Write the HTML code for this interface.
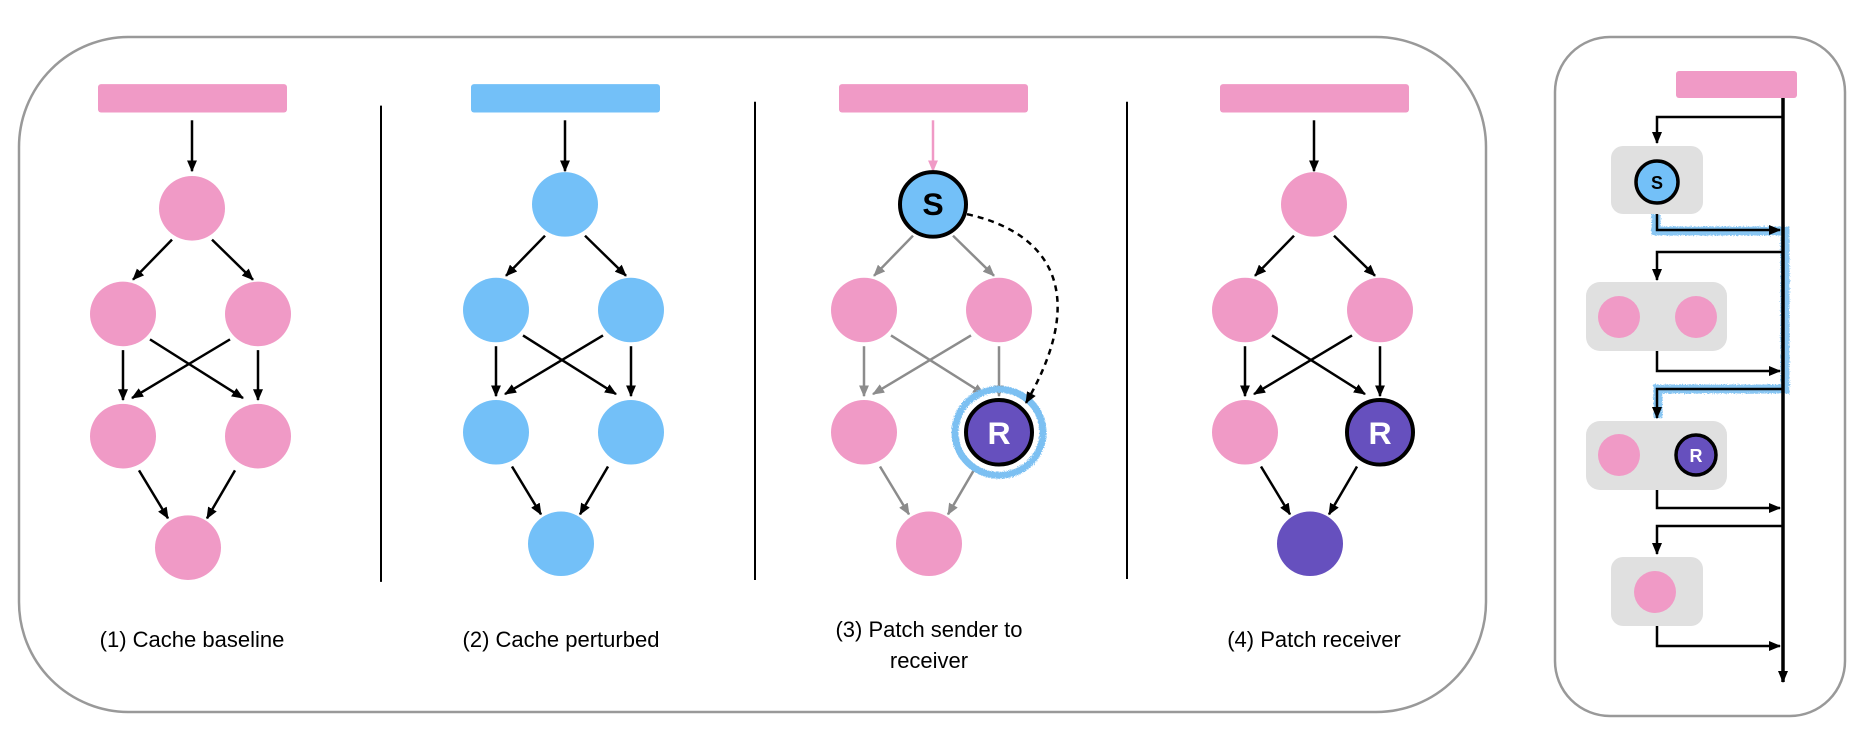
<!DOCTYPE html>
<html><head><meta charset="utf-8"><style>
html,body{margin:0;padding:0;background:#fff;}
svg{display:block;}
text{font-family:"Liberation Sans",Arial,sans-serif;}
</style></head><body>
<svg id="s" width="1865" height="743" viewBox="0 0 1865 743" xmlns="http://www.w3.org/2000/svg">
<defs>
<marker id="ak" viewBox="0 0 12 10" refX="11" refY="5" markerWidth="12" markerHeight="10" markerUnits="userSpaceOnUse" orient="auto"><path d="M0,0 L12,5 L0,10 z" fill="#000"/></marker>
<marker id="ag" viewBox="0 0 12 10" refX="11" refY="5" markerWidth="12" markerHeight="10" markerUnits="userSpaceOnUse" orient="auto"><path d="M0,0 L12,5 L0,10 z" fill="#8c8c8c"/></marker>
<marker id="ap" viewBox="0 0 12 10" refX="11" refY="5" markerWidth="12" markerHeight="10" markerUnits="userSpaceOnUse" orient="auto"><path d="M0,0 L12,5 L0,10 z" fill="#f09ac6"/></marker>
<filter id="fz" x="-20%" y="-20%" width="140%" height="140%"><feTurbulence type="fractalNoise" baseFrequency="0.9" numOctaves="2" result="n"/><feDisplacementMap in="SourceGraphic" in2="n" scale="4"/></filter>
</defs>
<rect x="19" y="37" width="1467" height="675" rx="110" fill="none" stroke="#999" stroke-width="2.5"/>
<rect x="1555" y="37" width="290" height="679" rx="55" fill="none" stroke="#999" stroke-width="2.5"/>
<g transform="matrix(1,0,0,0.978,0,0)">
<g stroke="#000" stroke-width="2"><line x1="381" y1="108" x2="381" y2="595"/><line x1="755" y1="104" x2="755" y2="593"/><line x1="1127" y1="104" x2="1127" y2="592"/></g>
<g id="g"></g>
</g>
<g font-size="22" text-anchor="middle" fill="#000">
<text x="192" y="647">(1) Cache baseline</text>
<text x="561" y="647">(2) Cache perturbed</text>
<text x="929" y="637">(3) Patch sender to</text>
<text x="929" y="668">receiver</text>
<text x="1314" y="647">(4) Patch receiver</text>
</g>
<!-- right panel -->
<g fill="none" stroke="#7cc0f2" stroke-width="9" filter="url(#fz)" opacity="0.9">
<path d="M1656,214 V231 H1785 V389 H1658 V418"/>
<circle cx="1696" cy="455" r="24" stroke-width="6"/>
</g>
<rect x="1676" y="71" width="121" height="27" rx="3" fill="#f09ac6"/>
<g fill="#e0e0e0">
<rect x="1611" y="146" width="92" height="68" rx="12"/>
<rect x="1586" y="282" width="141" height="69" rx="14"/>
<rect x="1586" y="421" width="141" height="69" rx="14"/>
<rect x="1611" y="557" width="92" height="69" rx="12"/>
</g>
<g fill="#f09ac6"><circle cx="1619" cy="317" r="21"/><circle cx="1696" cy="317" r="21"/><circle cx="1619" cy="455" r="21"/><circle cx="1655" cy="592" r="21"/></g>
<circle cx="1657" cy="182" r="21" fill="#73c0f8" stroke="#000" stroke-width="3.5"/>
<text x="1657" y="189" font-size="18" font-weight="bold" text-anchor="middle">S</text>
<circle cx="1696" cy="455" r="20" fill="#6650be" stroke="#000" stroke-width="3.5"/>
<text x="1696" y="462" font-size="18" font-weight="bold" text-anchor="middle" fill="#fff">R</text>
<g fill="none" stroke="#000" stroke-width="2.5">
<line x1="1783" y1="98" x2="1783" y2="682" stroke-width="3.5" marker-end="url(#ak)"/>
<path d="M1783,117 H1657 V143" marker-end="url(#ak)"/>
<path d="M1657,214 V230 H1780" marker-end="url(#ak)"/>
<path d="M1783,252 H1657 V280" marker-end="url(#ak)"/>
<path d="M1657,351 V371 H1780" marker-end="url(#ak)"/>
<path d="M1783,389 H1657 V418" marker-end="url(#ak)"/>
<path d="M1657,490 V508 H1780" marker-end="url(#ak)"/>
<path d="M1783,526 H1657 V554" marker-end="url(#ak)"/>
<path d="M1657,626 V646 H1780" marker-end="url(#ak)"/>
</g>
</svg>
<script>
var NS="http://www.w3.org/2000/svg",G=document.getElementById("g");
function el(t,a,p){var e=document.createElementNS(NS,t);for(var k in a)e.setAttribute(k,a[k]);(p||G).appendChild(e);return e;}
var P="#f09ac6",B="#73c0f8",U="#6650be";
var nodes=[[0,0],[-69,108],[66,108],[-69,233],[66,233],[-4,347]];
var edges=[[-20,32,-59,73],[20,32,61,73],[-69,145,-69,196],[66,145,66,196],[-42,134,51,194],[38,134,-60,194],[-53,268,-24,317],[43,268,15,317]];
function panel(cx,cy,bx,bar,cols,ec,mk,inc,inm,special){
 el("rect",{x:bx,y:86,width:189,height:29,rx:3,fill:bar});
 el("line",{x1:cx,y1:123,x2:cx,y2:175,stroke:inc,"stroke-width":2.5,"marker-end":"url(#"+inm+")"});
 edges.forEach(function(e){el("line",{x1:cx+e[0],y1:cy+e[1],x2:cx+e[2],y2:cy+e[3],stroke:ec,"stroke-width":2.5,"marker-end":"url(#"+mk+")"});});
 nodes.forEach(function(n,i){el("circle",{cx:cx+n[0],cy:cy+n[1],r:33,fill:cols[i]});});
 if(special)special(cx,cy);
}
panel(192,213,98,P,[P,P,P,P,P,P],"#000","ak","#000","ak");
panel(565,209,471,B,[B,B,B,B,B,B],"#000","ak","#000","ak");
panel(933,209,839,P,[B,P,P,P,U,P],"#8c8c8c","ag",P,"ap",function(cx,cy){
 el("circle",{cx:cx,cy:cy,r:33,fill:B,stroke:"#000","stroke-width":4});
 var t=el("text",{x:cx,y:cy+11,"font-size":32,"font-weight":"bold","text-anchor":"middle",fill:"#000"});t.textContent="S";
 el("circle",{cx:cx+66,cy:cy+233,r:44,fill:"none",stroke:"#7cc0f2","stroke-width":7,filter:"url(#fz)"});
 el("circle",{cx:cx+66,cy:cy+233,r:33,fill:U,stroke:"#000","stroke-width":4});
 t=el("text",{x:cx+66,y:cy+245,"font-size":32,"font-weight":"bold","text-anchor":"middle",fill:"#fff"});t.textContent="R";
 el("path",{d:"M967,219 C1040,235 1095,290 1026,412",fill:"none",stroke:"#000","stroke-width":2.5,"stroke-dasharray":"6,5","marker-end":"url(#ak)"});
});
panel(1314,209,1220,P,[P,P,P,P,U,U],"#000","ak","#000","ak",function(cx,cy){
 el("circle",{cx:cx+66,cy:cy+233,r:33,fill:U,stroke:"#000","stroke-width":4});
 var t=el("text",{x:cx+66,y:cy+245,"font-size":32,"font-weight":"bold","text-anchor":"middle",fill:"#fff"});t.textContent="R";
});
</script>
</body></html>
